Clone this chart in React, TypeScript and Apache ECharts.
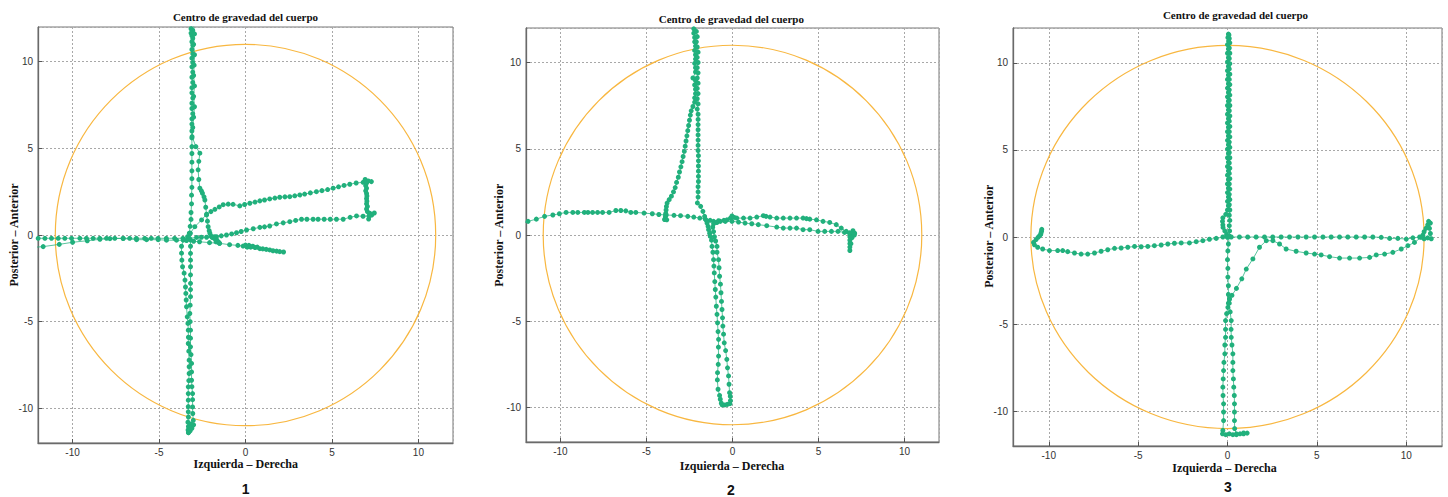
import React, { useEffect, useRef } from "react";
import * as echarts from "echarts";

const axisMin = -12;
const axisMax = 12;
const circleRadius = 11;
const titleText = "Centro de gravedad del cuerpo";
const xAxisName = "Izquierda – Derecha";
const yAxisName = "Posterior – Anterior";
const panelLabels = ["1", "2", "3"];

// ---------- Panel 1 ----------
const p1ColumnDown = [
  [-3.1, 12.1], [-3.15, 11.9], [-3.05, 11.8], [-3.15, 11.65], [-3.1, 11.5], [-3.05, 11.35], [-3.1, 11.15], [-3.05, 10.95],
  [-3.1, 10.7], [-3.05, 10.45], [-3.1, 10.2], [-3.05, 9.95], [-3.1, 9.7], [-3.05, 9.4], [-3.1, 9.1], [-3.05, 8.8],
  [-3.1, 8.5], [-3.1, 8.2], [-3.05, 7.9], [-3.1, 7.6], [-3.1, 7.3], [-3.05, 7.0], [-3.1, 6.7], [-3.1, 6.4],
  [-3.1, 6.0], [-3.1, 5.6], [-3.1, 5.1], [-3.1, 4.7], [-3.1, 4.2], [-3.1, 3.7], [-3.1, 3.25], [-3.1, 2.75],
  [-3.12, 2.3], [-3.12, 1.8], [-3.15, 1.3], [-3.15, 0.9], [-3.2, 0.5], [-3.25, 0.1], [-3.35, -0.1], [-3.6, -0.3],
  [-3.7, -0.65], [-3.7, -1.05], [-3.68, -1.45], [-3.64, -1.83], [-3.55, -2.2], [-3.5, -2.6], [-3.47, -3.0], [-3.45, -3.37],
  [-3.43, -3.75], [-3.41, -4.14], [-3.37, -4.72], [-3.33, -5.1], [-3.31, -5.49], [-3.3, -5.9], [-3.31, -6.26], [-3.28, -6.7],
  [-3.26, -7.22], [-3.26, -7.6], [-3.26, -7.99], [-3.28, -8.4], [-3.31, -8.76], [-3.31, -9.15], [-3.31, -9.53], [-3.31, -9.9],
  [-3.31, -10.2], [-3.3, -10.5], [-3.33, -10.8], [-3.3, -11.05], [-3.32, -11.25], [-3.3, -11.4],
];
const p1ColumnUp = [
  [-3.3, -11.4], [-3.2, -11.3], [-3.1, -11.15], [-3.0, -10.95], [-3.15, -10.9], [-3.02, -10.69], [-3.05, -10.3], [-3.06, -9.92],
  [-3.06, -9.5], [-3.06, -9.15], [-3.1, -8.75], [-3.12, -8.38], [-3.12, -7.9], [-3.12, -7.41], [-3.15, -6.9], [-3.18, -6.45],
  [-3.18, -5.95], [-3.18, -5.49], [-3.2, -5.0], [-3.22, -4.53], [-3.2, -4.05], [-3.18, -3.56], [-3.18, -3.15], [-3.18, -2.79],
  [-3.18, -2.3], [-3.18, -1.83], [-3.18, -1.45], [-3.18, -1.06], [-3.18, -0.65], [-3.18, -0.29], [-3.2, 0.1],
];
const p1Rise = [
  [-3.2, 0.1], [-2.93, 0.48], [-2.54, 0.87], [-2.25, 1.2], [-2.0, 1.35], [-1.77, 1.48], [-1.52, 1.62], [-1.29, 1.75],
  [-1.0, 1.78], [-0.72, 1.77], [-0.33, 1.68], [-0.05, 1.76], [0.25, 1.83], [0.55, 1.9], [0.83, 1.97], [1.1, 2.02],
  [1.4, 2.08], [1.7, 2.13], [1.98, 2.18], [2.28, 2.2], [2.56, 2.21], [2.85, 2.26], [3.14, 2.31], [3.42, 2.36],
  [3.75, 2.43], [4.1, 2.5], [4.42, 2.56], [4.75, 2.62], [5.07, 2.7], [5.38, 2.78], [5.7, 2.86], [6.03, 2.93],
  [6.4, 3.0], [6.8, 3.04], [6.92, 3.2], [7.1, 3.12], [7.28, 3.08], [7.0, 3.0], [6.95, 2.85], [7.0, 2.7],
  [6.95, 2.55], [7.0, 2.4], [7.02, 2.25], [7.0, 2.1], [7.02, 1.95], [7.0, 1.8], [7.05, 1.65], [7.0, 1.5],
  [7.05, 1.35], [7.2, 1.25], [7.45, 1.27], [7.3, 1.15], [7.12, 0.92], [7.15, 1.1],
];
const p1Return = [
  [7.15, 1.1], [6.8, 1.08], [6.42, 1.1], [6.05, 1.02], [5.65, 0.91], [5.26, 0.91], [4.9, 0.91], [4.55, 0.91],
  [4.2, 0.91], [3.91, 0.91], [3.55, 0.91], [3.24, 0.91], [2.9, 0.84], [2.56, 0.77], [2.18, 0.7], [1.79, 0.64],
  [1.4, 0.52], [1.1, 0.47], [0.83, 0.44], [0.45, 0.36], [0.06, 0.29], [-0.25, 0.2], [-0.52, 0.13], [-0.8, 0.06],
  [-1.1, 0.0], [-1.4, -0.05], [-1.68, -0.1], [-1.95, -0.12], [-2.25, -0.13], [-2.55, -0.13], [-2.83, -0.14], [-3.24, -0.19],
  [-3.62, -0.19], [-4.1, -0.19], [-4.58, -0.19], [-5.06, -0.19], [-5.45, -0.19], [-5.83, -0.19], [-6.31, -0.19], [-6.7, -0.19],
  [-7.08, -0.19], [-7.56, -0.19], [-8.04, -0.19], [-8.43, -0.19], [-8.81, -0.19], [-9.2, -0.19], [-9.58, -0.19], [-10.06, -0.19],
  [-10.45, -0.19], [-10.83, -0.19], [-11.22, -0.19], [-11.6, -0.19], [-11.99, -0.19], [-12.4, -0.2],
];
const p1Lower = [
  [-12.4, -0.72], [-11.7, -0.67], [-10.77, -0.54], [-10.0, -0.42], [-9.15, -0.33], [-8.42, -0.25], [-7.84, -0.21], [-7.07, -0.2],
  [-6.3, -0.27], [-5.72, -0.27], [-5.05, -0.27], [-4.57, -0.3], [-3.99, -0.3], [-3.41, -0.32], [-3.0, -0.36], [-2.66, -0.39],
  [-2.08, -0.44], [-1.5, -0.48], [-0.92, -0.56], [-0.44, -0.6], [-0.14, -0.64], [0.0, -0.58], [0.1, -0.7], [0.2, -0.6],
  [0.3, -0.7], [0.42, -0.65], [0.55, -0.72], [0.68, -0.7], [0.83, -0.79], [1.0, -0.8], [1.2, -0.83], [1.4, -0.86],
  [1.59, -0.91], [1.8, -0.93], [1.98, -0.96], [2.2, -0.98],
];
const p1Drift = [
  [-3.0, 12.1], [-2.95, 11.6], [-3.0, 11.0], [-2.95, 10.4], [-2.97, 9.8], [-3.0, 9.2], [-2.95, 8.6], [-3.0, 8.0],
  [-2.95, 7.4], [-3.0, 6.8], [-3.05, 6.2], [-3.09, 5.68], [-2.87, 5.1], [-2.64, 4.72], [-2.7, 4.25], [-2.74, 3.76],
  [-2.7, 3.2], [-2.64, 2.7], [-2.55, 2.55], [-2.49, 2.41], [-2.4, 2.2], [-2.35, 2.02], [-2.3, 1.6], [-2.25, 1.16],
  [-2.2, 0.8], [-2.16, 0.48], [-2.1, 0.25], [-2.06, 0.1], [-2.0, -0.05], [-1.9, -0.15], [-1.8, -0.1], [-1.75, -0.25],
  [-1.65, -0.3], [-1.7, -0.4], [-1.55, -0.42], [-1.5, -0.48],
];

// ---------- Panel 2 ----------
const p2Diagonal = [
  [-2.3, 12.3], [-2.25, 11.95], [-2.25, 11.7], [-2.2, 11.45], [-2.2, 11.2], [-2.15, 10.95], [-2.2, 10.7], [-2.15, 10.45],
  [-2.15, 10.2], [-2.2, 9.95], [-2.15, 9.7], [-2.15, 9.45], [-2.3, 9.1], [-2.15, 8.95], [-2.2, 8.7], [-2.15, 8.45],
  [-2.15, 8.2], [-2.2, 7.95], [-2.2, 7.7], [-2.3, 7.45], [-2.4, 7.2], [-2.45, 6.95], [-2.5, 6.65], [-2.55, 6.35],
  [-2.6, 6.05], [-2.65, 5.75], [-2.7, 5.45], [-2.75, 5.15], [-2.8, 4.85], [-2.87, 4.55], [-2.93, 4.25], [-3.0, 3.95],
  [-3.08, 3.65], [-3.15, 3.35], [-3.25, 3.05], [-3.33, 2.75], [-3.43, 2.5], [-3.55, 2.25], [-3.68, 2.05], [-3.8, 1.85],
  [-3.84, 1.65], [-3.86, 1.45], [-3.88, 1.25], [-3.9, 1.05], [-3.95, 0.9], [-3.82, 0.88], [-3.85, 1.16], [-3.4, 1.14],
  [-3.02, 1.12], [-2.6, 1.08], [-2.25, 1.04], [-1.9, 0.98], [-1.58, 0.92], [-1.3, 0.85], [-1.1, 0.79], [-0.91, 0.73],
];
const p2Right = [
  [-0.91, 0.73], [-0.71, 0.79], [-0.5, 0.85], [-0.32, 0.88], [-0.12, 0.98], [-0.03, 1.1], [0.1, 1.02], [0.25, 0.98],
  [0.64, 0.98], [1.02, 0.98], [1.41, 1.04], [1.79, 1.12], [1.95, 1.08], [2.18, 1.04], [2.57, 0.98], [2.95, 0.98],
  [3.34, 0.98], [3.72, 0.98], [4.1, 0.98], [4.3, 0.95], [4.49, 0.92], [4.88, 0.88], [5.26, 0.79], [5.65, 0.73],
  [6.03, 0.6], [6.32, 0.4], [6.61, 0.21], [6.8, 0.11], [6.99, 0.02], [7.1, 0.1], [7.0, 0.25], [6.9, 0.1],
  [6.82, -0.1], [6.82, -0.3], [6.82, -0.5], [6.82, -0.7], [6.82, -0.9], [6.88, -0.5], [6.95, -0.15], [7.08, 0.0],
  [6.8, 0.12], [6.51, 0.15], [6.13, 0.21], [5.75, 0.21], [5.36, 0.21], [4.97, 0.21], [4.49, 0.31], [4.1, 0.31],
  [3.72, 0.4], [3.34, 0.4], [2.95, 0.4], [2.57, 0.46], [1.99, 0.54], [1.5, 0.6], [1.12, 0.65], [0.73, 0.69],
  [0.35, 0.75], [-0.03, 0.79], [-0.42, 0.79], [-0.81, 0.83],
];
const p2Left = [
  [-3.89, 1.16], [-4.28, 1.19], [-4.66, 1.23], [-5.14, 1.27], [-5.62, 1.31], [-5.91, 1.31], [-6.2, 1.4], [-6.49, 1.42],
  [-6.78, 1.42], [-7.17, 1.31], [-7.55, 1.31], [-7.84, 1.31], [-8.13, 1.31], [-8.4, 1.31], [-8.61, 1.31], [-8.99, 1.31],
  [-9.28, 1.31], [-9.67, 1.31], [-10.06, 1.23], [-10.44, 1.16], [-10.92, 1.08], [-11.4, 0.92], [-11.88, 0.79], [-12.4, 0.62],
];
const p2Column = [
  [-2.15, 12.2], [-2.1, 11.8], [-2.05, 11.5], [-2.1, 11.2], [-2.05, 10.9], [-2.0, 10.6], [-2.05, 10.3], [-2.0, 10.0],
  [-2.05, 9.7], [-2.0, 9.4], [-2.05, 9.1], [-2.0, 8.8], [-2.05, 8.5], [-2.0, 8.2], [-2.05, 7.9], [-2.0, 7.6],
  [-2.05, 7.3], [-2.0, 7.0], [-2.0, 6.7], [-2.0, 6.4], [-2.0, 6.1], [-2.0, 5.8], [-2.0, 5.5], [-2.0, 5.2],
  [-2.0, 4.9], [-1.98, 4.6], [-1.98, 4.3], [-1.98, 4.0], [-1.98, 3.7], [-1.98, 3.4], [-1.98, 3.1], [-2.0, 2.8],
  [-2.0, 2.5], [-2.0, 2.2], [-2.04, 1.86], [-1.85, 1.66], [-1.72, 1.37], [-1.62, 1.08], [-1.52, 0.85], [-1.48, 0.69],
  [-1.42, 0.5], [-1.39, 0.31], [-1.33, 0.1], [-1.29, -0.08], [-1.22, -0.3], [-1.19, -0.66], [-1.14, -1.0], [-1.1, -1.43],
  [-1.08, -1.8], [-1.06, -2.2], [-1.03, -2.7], [-1.0, -3.16], [-0.97, -3.6], [-0.94, -4.13], [-0.9, -4.6], [-0.87, -5.09],
  [-0.84, -5.6], [-0.81, -6.05], [-0.82, -6.5], [-0.81, -7.02], [-0.83, -7.5], [-0.87, -7.98], [-0.88, -8.4], [-0.84, -8.94],
  [-0.75, -9.3], [-0.71, -9.52], [-0.65, -9.75], [-0.6, -9.85], [-0.45, -9.85], [-0.3, -9.82], [-0.15, -9.78], [-0.12, -9.6],
  [-0.13, -9.35], [-0.17, -9.14], [-0.2, -8.65], [-0.23, -8.17], [-0.29, -7.7], [-0.33, -7.21], [-0.4, -6.7], [-0.48, -6.25],
  [-0.52, -5.75], [-0.56, -5.28], [-0.58, -4.8], [-0.61, -4.32], [-0.64, -3.85], [-0.67, -3.35], [-0.7, -2.85], [-0.75, -2.39],
  [-0.78, -1.9], [-0.81, -1.43], [-0.9, -1.0], [-0.9, -0.66], [-0.98, -0.35], [-1.05, -0.1], [-1.1, 0.2], [-1.15, 0.45],
  [-1.1, 0.65],
];

// ---------- Panel 3 ----------
const p3TopDown = [
  [0.05, 11.65], [0.02, 11.45], [0.06, 11.25], [0.0, 11.05], [0.05, 10.8], [0.0, 10.55], [0.05, 10.3], [0.0, 10.05],
  [0.05, 9.8], [0.0, 9.55], [0.05, 9.3], [0.0, 9.05], [0.05, 8.8], [0.0, 8.55], [0.05, 8.3], [0.0, 8.05],
  [0.05, 7.8], [0.0, 7.55], [0.05, 7.3], [0.0, 7.05], [0.05, 6.8], [0.0, 6.55], [0.05, 6.3], [0.0, 6.05],
  [0.05, 5.8], [0.0, 5.55], [0.05, 5.3], [0.0, 5.05], [0.05, 4.8], [0.0, 4.55], [0.05, 4.3], [0.0, 4.05],
  [0.05, 3.8], [0.0, 3.55], [0.05, 3.3], [0.0, 3.05], [0.05, 2.8], [0.0, 2.55], [0.05, 2.3], [0.0, 2.05],
  [0.05, 1.8], [0.0, 1.55], [-0.1, 1.3], [-0.26, 1.1], [-0.28, 0.9], [-0.26, 0.7], [-0.25, 0.55], [-0.15, 0.35],
  [-0.05, 0.15], [0.0, 0.0],
];
const p3Left = [
  [0.0, 0.0], [-0.26, 0.0], [-0.63, -0.08], [-1.01, -0.13], [-1.38, -0.21], [-1.75, -0.27], [-2.13, -0.34], [-2.59, -0.34],
  [-2.97, -0.36], [-3.34, -0.4], [-3.71, -0.46], [-4.09, -0.5], [-4.46, -0.54], [-4.83, -0.56], [-5.2, -0.54], [-5.58, -0.59],
  [-5.95, -0.63], [-6.32, -0.65], [-6.7, -0.73], [-7.07, -0.82], [-7.44, -0.92], [-7.82, -0.98], [-8.19, -0.98], [-8.56, -0.92],
  [-8.94, -0.84], [-9.22, -0.78], [-9.5, -0.78], [-9.96, -0.78], [-10.34, -0.69], [-10.62, -0.59], [-10.8, -0.45], [-10.85, -0.31],
  [-10.71, -0.15], [-10.6, -0.02], [-10.52, 0.06], [-10.45, 0.15], [-10.43, 0.25], [-10.4, 0.35], [-10.39, 0.44],
];
const p3Right = [
  [0.0, 0.0], [0.21, 0.0], [0.67, 0.0], [1.13, 0.0], [1.6, 0.0], [2.07, 0.0], [2.53, 0.0], [3.0, 0.0],
  [3.47, 0.0], [3.94, 0.0], [4.4, 0.0], [4.87, 0.0], [5.34, 0.0], [5.8, 0.0], [6.27, 0.0], [6.73, 0.0],
  [7.2, 0.0], [7.67, 0.0], [8.13, 0.0], [8.6, -0.02], [9.07, -0.08], [9.53, -0.08], [10.0, -0.12], [10.37, -0.05],
  [10.75, 0.0], [10.93, 0.1], [11.0, 0.3], [11.1, 0.5], [11.2, 0.7], [11.25, 0.9], [11.35, 0.8], [11.3, 0.5],
  [11.35, 0.2], [11.4, -0.1], [11.2, -0.05], [11.0, -0.1], [10.84, -0.02], [10.46, -0.31], [10.09, -0.5], [9.72, -0.69],
  [9.25, -0.88], [8.79, -0.98], [8.32, -1.03], [7.95, -1.17], [7.39, -1.21], [6.83, -1.21], [6.27, -1.21], [5.71, -1.13],
  [5.24, -1.03], [4.87, -0.98], [4.4, -0.92], [3.84, -0.82], [3.28, -0.69], [2.91, -0.4], [2.54, -0.21], [2.17, -0.21],
  [1.79, -0.59], [1.42, -1.26], [1.05, -1.84], [0.8, -2.4], [0.5, -2.95], [0.25, -3.35], [0.11, -3.56],
];
const p3Bottom = [
  [0.11, -3.56], [0.05, -3.8], [0.02, -4.04], [-0.05, -4.4], [-0.11, -4.8], [-0.11, -5.3], [-0.11, -5.76], [-0.15, -6.2],
  [-0.15, -6.71], [-0.2, -7.2], [-0.22, -7.67], [-0.24, -8.15], [-0.26, -8.62], [-0.25, -9.1], [-0.22, -9.58], [-0.22, -10.05],
  [-0.22, -10.54], [-0.26, -11.11], [-0.28, -11.3], [-0.1, -11.35], [0.1, -11.3], [0.3, -11.35], [0.5, -11.3], [0.7, -11.3],
  [0.9, -11.25], [1.1, -11.26], [0.9, -11.3], [0.5, -11.35], [0.4, -11.0], [0.39, -10.54], [0.39, -10.05], [0.39, -9.58],
  [0.38, -9.1], [0.35, -8.62], [0.33, -8.15], [0.3, -7.67], [0.3, -7.2], [0.3, -6.71], [0.25, -6.2], [0.21, -5.76],
  [0.2, -5.3], [0.21, -4.8], [0.15, -4.3], [0.1, -3.8], [0.05, -3.3], [0.05, -2.8], [0.02, -2.3], [0.02, -1.8],
  [0.0, -1.3], [0.02, -0.8], [0.05, -0.4], [0.1, 0.05],
];
const p3TopUp = [
  [0.1, 0.05], [0.12, 0.35], [0.1, 0.65], [0.13, 0.95], [0.1, 1.25], [0.13, 1.55], [0.1, 1.85], [0.13, 2.15],
  [0.1, 2.45], [0.13, 2.75], [0.1, 3.05], [0.13, 3.35], [0.1, 3.65], [0.13, 3.95], [0.1, 4.25], [0.13, 4.55],
  [0.1, 4.85], [0.13, 5.15], [0.1, 5.45], [0.13, 5.75], [0.1, 6.05], [0.13, 6.35], [0.1, 6.65], [0.13, 6.95],
  [0.1, 7.25], [0.13, 7.55], [0.1, 7.85], [0.13, 8.15], [0.1, 8.45], [0.13, 8.75], [0.1, 9.05], [0.13, 9.35],
  [0.1, 9.65], [0.13, 9.95], [0.1, 10.25], [0.13, 10.55], [0.1, 10.85], [0.13, 11.15], [0.1, 11.4], [0.08, 11.6],
];

const panelSeries = [
  [p1ColumnDown, p1ColumnUp, p1Rise, p1Return, p1Lower, p1Drift],
  [p2Diagonal, p2Right, p2Left, p2Column],
  [p3TopDown, p3Left, p3Right, p3Bottom, p3TopUp],
];

const GREEN = "#21b07c";
const ORANGE = "#f8b740";

const grids = [
  { left: 38, top: 27, width: 415, height: 416 },
  { left: 526, top: 28, width: 413, height: 414 },
  { left: 1013, top: 28, width: 429, height: 418 },
];
const titlePos = [[245.5, 17], [731.3, 18.5], [1235.5, 14.5]];
const xNamePos = [[245.7, 464], [732, 465.5], [1224.5, 467.5]];
const yNamePos = [[13.5, 235], [498.5, 235.3], [988.5, 236.3]];
const numPos = [[245.7, 488.5], [731, 490], [1228, 486.5]];

export default function App() {
  const ref = useRef<HTMLDivElement>(null);
  useEffect(() => {
    if (!ref.current) return;
    const chart = echarts.init(ref.current, null, { renderer: "svg" });
    const axisCommon = {
      type: "value",
      min: axisMin,
      max: axisMax,
      splitNumber: 5,
      axisLine: { show: true, onZero: false, lineStyle: { color: "#6a6a6a", width: 1.3 } },
      axisTick: { show: true, inside: true, length: 4, lineStyle: { color: "#555" } },
      splitLine: { show: true, lineStyle: { color: "#a8a8a8", type: [2, 2], width: 1 } },
      axisLabel: {
        showMinLabel: false,
        showMaxLabel: false,
        color: "#333",
        fontSize: 10,
        fontFamily: "Liberation Sans, Arial, sans-serif",
      },
    };
    const xAxis = grids.map((_, i) => ({ ...axisCommon, gridIndex: i, axisLabel: { ...axisCommon.axisLabel, margin: 4 } }));
    const yAxis = grids.map((_, i) => ({ ...axisCommon, gridIndex: i, axisLabel: { ...axisCommon.axisLabel, margin: 5 } }));
    const series: any[] = [];
    panelSeries.forEach((list, i) => {
      series.push({
        type: "custom",
        xAxisIndex: i,
        yAxisIndex: i,
        data: [[0, 0, circleRadius]],
        z: 2,
        silent: true,
        clip: false,
        renderItem: (_p: any, api: any) => {
          const c = api.coord([api.value(0), api.value(1)]);
          const s = api.size([api.value(2), api.value(2)]);
          return {
            type: "ellipse",
            shape: { cx: c[0], cy: c[1], rx: s[0], ry: s[1] },
            style: { fill: "none", stroke: ORANGE, lineWidth: 1.2 },
          };
        },
      });
      list.forEach((data) => {
        series.push({
          type: "line",
          xAxisIndex: i,
          yAxisIndex: i,
          data,
          symbol: "circle",
          symbolSize: 5,
          showSymbol: true,
          showAllSymbol: true,
          clip: true,
          z: 3,
          silent: true,
          itemStyle: { color: GREEN },
          lineStyle: { color: GREEN, width: 1, opacity: 0.75 },
        });
      });
    });
    const graphic: any[] = [];
    for (let i = 0; i < 3; i++) {
      graphic.push({
        type: "text", x: titlePos[i][0], y: titlePos[i][1],
        style: { text: titleText, align: "center", verticalAlign: "middle", font: 'bold 11px "Liberation Serif", serif', fill: "#111" },
      });
      graphic.push({
        type: "text", x: xNamePos[i][0], y: xNamePos[i][1],
        style: { text: xAxisName, align: "center", verticalAlign: "middle", font: 'bold 12px "Liberation Serif", serif', fill: "#111" },
      });
      graphic.push({
        type: "text", x: yNamePos[i][0], y: yNamePos[i][1], rotation: Math.PI / 2,
        style: { text: yAxisName, align: "center", verticalAlign: "middle", font: 'bold 12px "Liberation Serif", serif', fill: "#111" },
      });
      graphic.push({
        type: "text", x: numPos[i][0], y: numPos[i][1],
        style: { text: panelLabels[i], align: "center", verticalAlign: "middle", font: 'bold 14px "Liberation Sans", Arial, sans-serif', fill: "#111" },
      });
    }
    chart.setOption({
      animation: false,
      backgroundColor: "#fff",
      grid: grids.map((g) => ({ ...g, show: true, borderColor: "#777", borderWidth: 1, containLabel: false })),
      xAxis,
      yAxis,
      series,
      graphic,
    });
    return () => chart.dispose();
  }, []);
  return (
    <div
      ref={ref}
      style={{ position: "absolute", left: 0, top: 0, width: 1448, height: 497, background: "#fff" }}
    />
  );
}
